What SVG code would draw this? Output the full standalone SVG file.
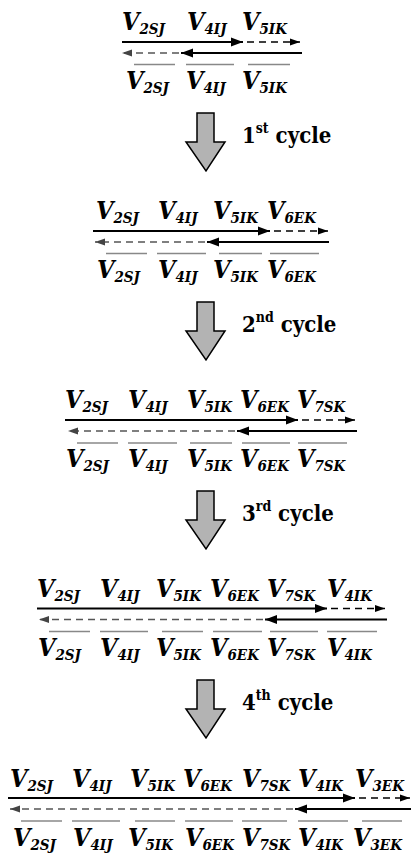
<svg xmlns="http://www.w3.org/2000/svg" width="411" height="855" viewBox="0 0 411 855">
<style>
text{font-family:'DejaVu Serif',serif;font-weight:bold;font-stretch:condensed;fill:#000}
.lbl{font-style:italic;font-size:25px}
.sub{font-size:15px}
.cyc{font-size:22px}
.sup{font-size:14px}
.solid{stroke:#000;stroke-width:2;fill:none}
.dash{stroke:#000;stroke-width:1.3;stroke-dasharray:7 5;fill:none}
.dashg{stroke:#555;stroke-width:1.3;stroke-dasharray:7 5;fill:none}
.bar{stroke:#888;stroke-width:1.5}
.down{fill:#b3b3b3;stroke:#000;stroke-width:1.5;stroke-linejoin:miter}
</style>
<defs>
<marker id="ahS" markerUnits="userSpaceOnUse" markerWidth="14" markerHeight="10" refX="12" refY="5" orient="auto"><path d="M0,0.5 L12,5 L0,9.5 Z" fill="#000"/></marker>
<marker id="ahD" markerUnits="userSpaceOnUse" markerWidth="12" markerHeight="8" refX="10" refY="4" orient="auto"><path d="M0,0.5 L10,4 L0,7.5 Z" fill="#000"/></marker>
<marker id="ahG" markerUnits="userSpaceOnUse" markerWidth="12" markerHeight="8" refX="10" refY="4" orient="auto"><path d="M0,0.5 L10,4 L0,7.5 Z" fill="#444"/></marker>
</defs>

<g id="block1">
<text class="lbl" x="122" y="30">V<tspan class="sub" dy="4">2SJ</tspan></text>
<text class="lbl" x="187" y="30">V<tspan class="sub" dy="4">4IJ</tspan></text>
<text class="lbl" x="242" y="30">V<tspan class="sub" dy="4">5IK</tspan></text>
<line class="bar" x1="134" y1="64.5" x2="175" y2="64.5"/>
<line class="bar" x1="186" y1="64.5" x2="234" y2="64.5"/>
<line class="bar" x1="248" y1="64.5" x2="290" y2="64.5"/>
<text class="lbl" x="126" y="89">V<tspan class="sub" dy="4">2SJ</tspan></text>
<text class="lbl" x="186" y="89">V<tspan class="sub" dy="4">4IJ</tspan></text>
<text class="lbl" x="242" y="89">V<tspan class="sub" dy="4">5IK</tspan></text>
</g>
<g id="block2">
<text class="lbl" x="96" y="219">V<tspan class="sub" dy="4">2SJ</tspan></text>
<text class="lbl" x="158" y="219">V<tspan class="sub" dy="4">4IJ</tspan></text>
<text class="lbl" x="213" y="219">V<tspan class="sub" dy="4">5IK</tspan></text>
<text class="lbl" x="267" y="219">V<tspan class="sub" dy="4">6EK</tspan></text>
<line class="bar" x1="106" y1="253.5" x2="147" y2="253.5"/>
<line class="bar" x1="157" y1="253.5" x2="206" y2="253.5"/>
<line class="bar" x1="219" y1="253.5" x2="262" y2="253.5"/>
<line class="bar" x1="270" y1="253.5" x2="319" y2="253.5"/>
<text class="lbl" x="97" y="278">V<tspan class="sub" dy="4">2SJ</tspan></text>
<text class="lbl" x="158" y="278">V<tspan class="sub" dy="4">4IJ</tspan></text>
<text class="lbl" x="213" y="278">V<tspan class="sub" dy="4">5IK</tspan></text>
<text class="lbl" x="267" y="278">V<tspan class="sub" dy="4">6EK</tspan></text>
</g>
<g id="block3">
<text class="lbl" x="65" y="408">V<tspan class="sub" dy="4">2SJ</tspan></text>
<text class="lbl" x="128" y="408">V<tspan class="sub" dy="4">4IJ</tspan></text>
<text class="lbl" x="187" y="408">V<tspan class="sub" dy="4">5IK</tspan></text>
<text class="lbl" x="240" y="408">V<tspan class="sub" dy="4">6EK</tspan></text>
<text class="lbl" x="297" y="408">V<tspan class="sub" dy="4">7SK</tspan></text>
<line class="bar" x1="77" y1="443" x2="118" y2="443"/>
<line class="bar" x1="128" y1="443" x2="177" y2="443"/>
<line class="bar" x1="190" y1="443" x2="232" y2="443"/>
<line class="bar" x1="242" y1="443" x2="290" y2="443"/>
<line class="bar" x1="298" y1="443" x2="347" y2="443"/>
<text class="lbl" x="66" y="467">V<tspan class="sub" dy="4">2SJ</tspan></text>
<text class="lbl" x="128" y="467">V<tspan class="sub" dy="4">4IJ</tspan></text>
<text class="lbl" x="187" y="467">V<tspan class="sub" dy="4">5IK</tspan></text>
<text class="lbl" x="240" y="467">V<tspan class="sub" dy="4">6EK</tspan></text>
<text class="lbl" x="297" y="467">V<tspan class="sub" dy="4">7SK</tspan></text>
</g>
<g id="block4">
<text class="lbl" x="37" y="597">V<tspan class="sub" dy="4">2SJ</tspan></text>
<text class="lbl" x="100" y="597">V<tspan class="sub" dy="4">4IJ</tspan></text>
<text class="lbl" x="156" y="597">V<tspan class="sub" dy="4">5IK</tspan></text>
<text class="lbl" x="210" y="597">V<tspan class="sub" dy="4">6EK</tspan></text>
<text class="lbl" x="267" y="597">V<tspan class="sub" dy="4">7SK</tspan></text>
<text class="lbl" x="327" y="597">V<tspan class="sub" dy="4">4IK</tspan></text>
<line class="bar" x1="49" y1="631.5" x2="90" y2="631.5"/>
<line class="bar" x1="100" y1="631.5" x2="148" y2="631.5"/>
<line class="bar" x1="162" y1="631.5" x2="203" y2="631.5"/>
<line class="bar" x1="213" y1="631.5" x2="262" y2="631.5"/>
<line class="bar" x1="270" y1="631.5" x2="318" y2="631.5"/>
<line class="bar" x1="327" y1="631.5" x2="377" y2="631.5"/>
<text class="lbl" x="38" y="656">V<tspan class="sub" dy="4">2SJ</tspan></text>
<text class="lbl" x="100" y="656">V<tspan class="sub" dy="4">4IJ</tspan></text>
<text class="lbl" x="156" y="656">V<tspan class="sub" dy="4">5IK</tspan></text>
<text class="lbl" x="210" y="656">V<tspan class="sub" dy="4">6EK</tspan></text>
<text class="lbl" x="267" y="656">V<tspan class="sub" dy="4">7SK</tspan></text>
<text class="lbl" x="327" y="656">V<tspan class="sub" dy="4">4IK</tspan></text>
</g>
<g id="block5">
<text class="lbl" x="10" y="787">V<tspan class="sub" dy="4">2SJ</tspan></text>
<text class="lbl" x="72" y="787">V<tspan class="sub" dy="4">4IJ</tspan></text>
<text class="lbl" x="130" y="787">V<tspan class="sub" dy="4">5IK</tspan></text>
<text class="lbl" x="183" y="787">V<tspan class="sub" dy="4">6EK</tspan></text>
<text class="lbl" x="242" y="787">V<tspan class="sub" dy="4">7SK</tspan></text>
<text class="lbl" x="298" y="787">V<tspan class="sub" dy="4">4IK</tspan></text>
<text class="lbl" x="355" y="787">V<tspan class="sub" dy="4">3EK</tspan></text>
<line class="bar" x1="21" y1="821" x2="62" y2="821"/>
<line class="bar" x1="72" y1="821" x2="120" y2="821"/>
<line class="bar" x1="135" y1="821" x2="175" y2="821"/>
<line class="bar" x1="185" y1="821" x2="233" y2="821"/>
<line class="bar" x1="242" y1="821" x2="287" y2="821"/>
<line class="bar" x1="298" y1="821" x2="348" y2="821"/>
<line class="bar" x1="362" y1="821" x2="402" y2="821"/>
<text class="lbl" x="13" y="846">V<tspan class="sub" dy="4">2SJ</tspan></text>
<text class="lbl" x="73" y="846">V<tspan class="sub" dy="4">4IJ</tspan></text>
<text class="lbl" x="128" y="846">V<tspan class="sub" dy="4">5IK</tspan></text>
<text class="lbl" x="185" y="846">V<tspan class="sub" dy="4">6EK</tspan></text>
<text class="lbl" x="242" y="846">V<tspan class="sub" dy="4">7SK</tspan></text>
<text class="lbl" x="298" y="846">V<tspan class="sub" dy="4">4IK</tspan></text>
<text class="lbl" x="353" y="846">V<tspan class="sub" dy="4">3EK</tspan></text>
</g>

<g id="cycles">
<g id="cycle1">
<path class="down" d="M197,113 H214 V142 H225 L206,171 L186,142 H197 Z"/>
<text class="cyc" x="242" y="143">1<tspan class="sup" dy="-10">st</tspan><tspan dy="10"> cycle</tspan></text>
</g>
<g id="cycle2">
<path class="down" d="M197,302 H214 V331 H225 L206,360 L186,331 H197 Z"/>
<text class="cyc" x="242" y="332">2<tspan class="sup" dy="-10">nd</tspan><tspan dy="10"> cycle</tspan></text>
</g>
<g id="cycle3">
<path class="down" d="M197,491 H214 V520 H225 L206,549 L186,520 H197 Z"/>
<text class="cyc" x="242" y="521">3<tspan class="sup" dy="-10">rd</tspan><tspan dy="10"> cycle</tspan></text>
</g>
<g id="cycle4">
<path class="down" d="M197,680 H214 V709 H225 L206,738 L186,709 H197 Z"/>
<text class="cyc" x="242" y="710">4<tspan class="sup" dy="-10">th</tspan><tspan dy="10"> cycle</tspan></text>
</g>
</g>

<g id="connectors">
<line class="solid" x1="122" y1="42" x2="243" y2="42" marker-end="url(#ahS)"/>
<line class="dash" x1="247" y1="42" x2="300" y2="42" marker-end="url(#ahD)"/>
<line class="solid" x1="302" y1="53" x2="181" y2="53" marker-end="url(#ahS)"/>
<line class="dashg" x1="179" y1="53" x2="122" y2="53" marker-end="url(#ahG)"/>
<line class="solid" x1="93" y1="231" x2="270" y2="231" marker-end="url(#ahS)"/>
<line class="dash" x1="274" y1="231" x2="328" y2="231" marker-end="url(#ahD)"/>
<line class="solid" x1="329" y1="242" x2="207" y2="242" marker-end="url(#ahS)"/>
<line class="dashg" x1="205" y1="242" x2="95" y2="242" marker-end="url(#ahG)"/>
<line class="solid" x1="65" y1="420" x2="298" y2="420" marker-end="url(#ahS)"/>
<line class="dash" x1="302" y1="420" x2="355" y2="420" marker-end="url(#ahD)"/>
<line class="solid" x1="357" y1="431" x2="237" y2="431" marker-end="url(#ahS)"/>
<line class="dashg" x1="235" y1="431" x2="68" y2="431" marker-end="url(#ahG)"/>
<line class="solid" x1="37" y1="608.5" x2="327" y2="608.5" marker-end="url(#ahS)"/>
<line class="dash" x1="331" y1="608.5" x2="385" y2="608.5" marker-end="url(#ahD)"/>
<line class="solid" x1="387" y1="619.5" x2="265" y2="619.5" marker-end="url(#ahS)"/>
<line class="dashg" x1="263" y1="619.5" x2="39" y2="619.5" marker-end="url(#ahG)"/>
<line class="solid" x1="8" y1="798" x2="355" y2="798" marker-end="url(#ahS)"/>
<line class="dash" x1="359" y1="798" x2="410" y2="798" marker-end="url(#ahD)"/>
<line class="solid" x1="411" y1="809" x2="295" y2="809" marker-end="url(#ahS)"/>
<line class="dashg" x1="293" y1="809" x2="10" y2="809" marker-end="url(#ahG)"/>
</g>
</svg>
